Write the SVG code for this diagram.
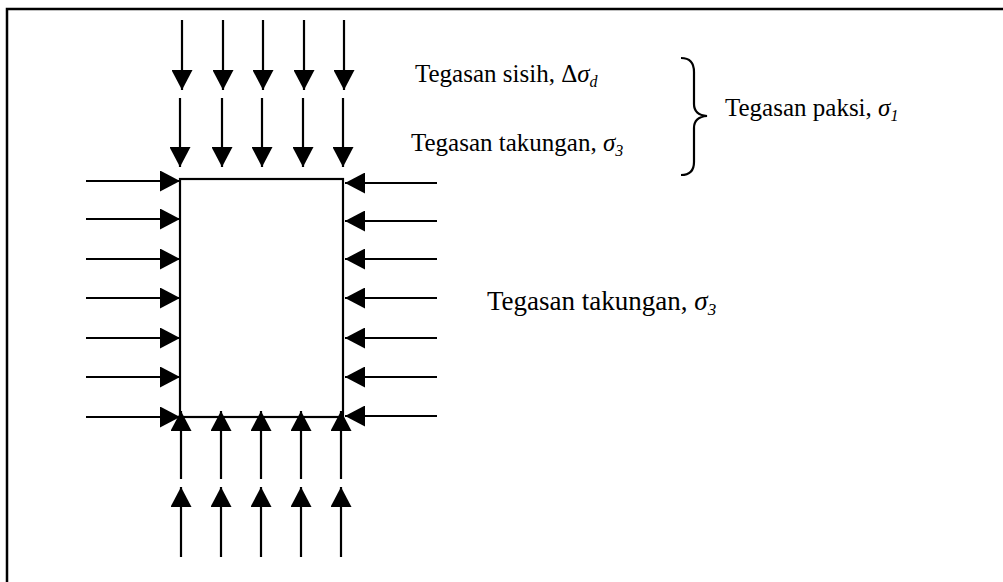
<svg xmlns="http://www.w3.org/2000/svg" width="1003" height="582" viewBox="0 0 1003 582">
<style>
.frame{stroke:#000;stroke-width:2.5;fill:none}
.ar{stroke:#000;stroke-width:2.2;marker-end:url(#ah)}
.box{stroke:#000;stroke-width:2.2;fill:#fff}
text{font-family:'Liberation Serif','DejaVu Serif','Times New Roman',serif;fill:#000}
.t{font-size:25px}
.r{font-size:27px}
.i{font-style:italic}
.brace{stroke:#000;stroke-width:2.2;fill:none}
</style>
<defs>
<marker id="ah" markerUnits="userSpaceOnUse" markerWidth="21" markerHeight="21" refX="20" refY="10.5" orient="auto">
<path d="M0,0 L20,10.5 L0,21 Z" fill="#000"/>
</marker>
</defs>
<rect width="1003" height="582" fill="#fff"/>
<g id="frame"><path class="frame" d="M7,582 L7,9 L1003,9"/></g>
<g id="specimen"><rect class="box" x="180" y="179" width="163" height="238"/></g>
<g id="connectors">
<line class="ar" x1="182" y1="20" x2="182" y2="90"/>
<line class="ar" x1="223" y1="20" x2="223" y2="90"/>
<line class="ar" x1="263" y1="20" x2="263" y2="90"/>
<line class="ar" x1="304" y1="20" x2="304" y2="90"/>
<line class="ar" x1="344" y1="20" x2="344" y2="90"/>
<line class="ar" x1="180" y1="98" x2="180" y2="167"/>
<line class="ar" x1="222" y1="98" x2="222" y2="167"/>
<line class="ar" x1="262" y1="98" x2="262" y2="167"/>
<line class="ar" x1="303" y1="98" x2="303" y2="167"/>
<line class="ar" x1="343" y1="98" x2="343" y2="167"/>
<line class="ar" x1="86" y1="181" x2="180" y2="181"/>
<line class="ar" x1="86" y1="219" x2="180" y2="219"/>
<line class="ar" x1="86" y1="259" x2="180" y2="259"/>
<line class="ar" x1="86" y1="298" x2="180" y2="298"/>
<line class="ar" x1="86" y1="338" x2="180" y2="338"/>
<line class="ar" x1="86" y1="377" x2="180" y2="377"/>
<line class="ar" x1="86" y1="417" x2="180" y2="417"/>
<line class="ar" x1="437" y1="183" x2="345" y2="183"/>
<line class="ar" x1="437" y1="221" x2="345" y2="221"/>
<line class="ar" x1="437" y1="259" x2="345" y2="259"/>
<line class="ar" x1="437" y1="298" x2="345" y2="298"/>
<line class="ar" x1="437" y1="338" x2="345" y2="338"/>
<line class="ar" x1="437" y1="377" x2="345" y2="377"/>
<line class="ar" x1="437" y1="416" x2="345" y2="416"/>
<line class="ar" x1="181" y1="479" x2="181" y2="411"/>
<line class="ar" x1="221" y1="479" x2="221" y2="411"/>
<line class="ar" x1="261" y1="479" x2="261" y2="411"/>
<line class="ar" x1="301" y1="479" x2="301" y2="411"/>
<line class="ar" x1="341" y1="479" x2="341" y2="411"/>
<line class="ar" x1="181" y1="557" x2="181" y2="487"/>
<line class="ar" x1="221" y1="557" x2="221" y2="487"/>
<line class="ar" x1="261" y1="557" x2="261" y2="487"/>
<line class="ar" x1="301" y1="557" x2="301" y2="487"/>
<line class="ar" x1="341" y1="557" x2="341" y2="487"/>
</g>
<g id="brace"><path class="brace" d="M681,58 Q694,58 694,72 L694,104 Q694,115 707,116 Q694,117 694,128 L694,162 Q694,175 681,175"/></g>
<g id="labels">
<text class="t" x="415" y="82">Tegasan sisih, Δ<tspan class="i">σ</tspan><tspan class="i" font-size="16" dy="5">d</tspan></text>
<text class="t" x="411" y="151">Tegasan takungan, <tspan class="i">σ</tspan><tspan class="i" font-size="16" dy="5">3</tspan></text>
<text class="t" x="725" y="116">Tegasan paksi, <tspan class="i">σ</tspan><tspan class="i" font-size="16" dy="5">1</tspan></text>
<text class="r" x="487" y="310">Tegasan takungan, <tspan class="i">σ</tspan><tspan class="i" font-size="17" dy="5">3</tspan></text>
</g>
</svg>
